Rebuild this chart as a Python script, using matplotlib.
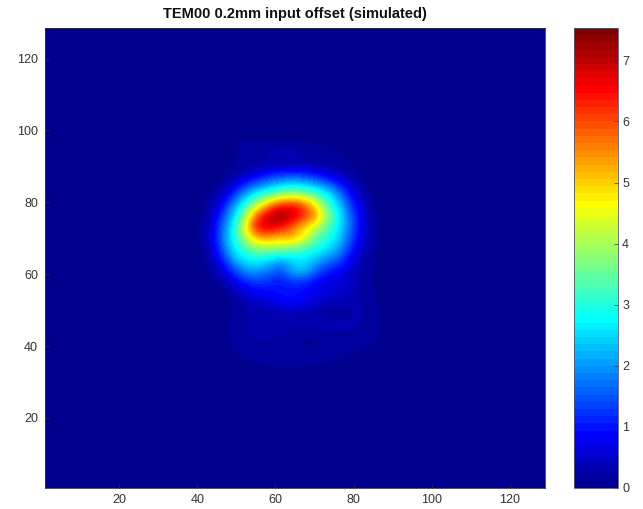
import matplotlib
matplotlib.use('Agg')
import numpy as np
import matplotlib.pyplot as plt
from matplotlib.colors import LinearSegmentedColormap

plt.rcParams['font.family'] = ['Liberation Sans', 'DejaVu Sans']

# beam intensity, step of 3 in x and y
x_centres = [37, 40, 43, 46, 49, 52, 55, 58, 61, 64, 67, 70, 73, 76, 79, 82, 85, 88, 91]
y_centres = [106, 103, 100, 97, 94, 91, 88, 85, 82, 79, 76, 73, 70, 67, 64, 61, 58, 55, 52, 49, 46, 43, 40, 37, 34, 31]
row_106 = [0, 0, 0, 0, 0, 0, 0, 0, 0, 0, 0, 0, 0, 0, 0, 0, 0, 0, 0]
row_103 = [0, 0, 0, 0, 0.01, 0.03, 0.06, 0.08, 0.08, 0.08, 0.08, 0.08, 0.06, 0.04, 0.02, 0, 0, 0, 0]
row_100 = [0, 0, 0, 0.02, 0.06, 0.1, 0.12, 0.14, 0.14, 0.14, 0.14, 0.14, 0.12, 0.1, 0.06, 0.02, 0, 0, 0]
row_97 = [0, 0, 0.01, 0.04, 0.1, 0.12, 0.1, 0.08, 0.06, 0.06, 0.06, 0.08, 0.08, 0.08, 0.08, 0.04, 0.01, 0, 0]
row_94 = [0, 0, 0.02, 0.05, 0.1, 0.16, 0.2, 0.3, 0.35, 0.35, 0.3, 0.2, 0.16, 0.12, 0.08, 0.05, 0.02, 0, 0]
row_91 = [0, 0, 0.01, 0.04, 0.1, 0.11, 0.12, 0.15, 0.15, 0.15, 0.15, 0.12, 0.11, 0.12, 0.1, 0.05, 0.02, 0, 0]
row_88 = [0, 0, 0.02, 0.05, 0.12, 0.35, 0.6, 0.9, 1.1, 1.2, 1.1, 0.9, 0.6, 0.4, 0.15, 0.06, 0.01, 0, 0]
row_85 = [0, 0, 0.03, 0.1, 0.5, 1.1, 1.6, 2.0, 2.3, 2.5, 2.4, 2.1, 1.7, 1.1, 0.5, 0.15, 0.03, 0, 0]
row_82 = [0, 0.02, 0.1, 0.4, 1.2, 2.1, 2.9, 3.4, 3.9, 4.2, 4.0, 3.5, 2.9, 2.0, 1.0, 0.35, 0.08, 0, 0]
row_79 = [0, 0.03, 0.2, 0.8, 1.9, 3.1, 4.2, 5.5, 6.5, 6.6, 6.2, 5.0, 3.4, 2.5, 1.4, 0.5, 0.12, 0.02, 0]
row_76 = [0, 0.05, 0.3, 1.2, 2.4, 3.8, 6.0, 7.0, 7.5, 7.0, 6.3, 5.6, 4.0, 2.8, 1.7, 0.65, 0.15, 0.03, 0]
row_73 = [0, 0.08, 0.4, 1.5, 2.7, 4.5, 6.6, 6.8, 6.5, 5.8, 5.0, 4.2, 3.4, 2.7, 1.7, 0.7, 0.18, 0.04, 0]
row_70 = [0, 0.08, 0.4, 1.6, 2.8, 3.9, 5.2, 5.3, 5.0, 5.3, 4.6, 3.6, 3.0, 2.5, 1.5, 0.6, 0.18, 0.05, 0]
row_67 = [0, 0.05, 0.3, 1.4, 2.6, 3.2, 3.7, 3.8, 3.7, 3.5, 3.2, 2.9, 2.6, 2.1, 1.2, 0.45, 0.15, 0.05, 0]
row_64 = [0, 0.03, 0.2, 0.9, 2.1, 2.6, 2.8, 2.6, 2.2, 2.4, 2.6, 2.3, 1.9, 1.5, 0.8, 0.3, 0.12, 0.05, 0]
row_61 = [0, 0.02, 0.1, 0.5, 1.3, 2.0, 2.1, 1.8, 1.4, 2.2, 2.5, 1.7, 1.1, 0.9, 0.55, 0.2, 0.1, 0.05, 0]
row_58 = [0, 0, 0.03, 0.15, 0.6, 1.1, 1.3, 1.2, 1.0, 1.2, 1.2, 0.9, 0.7, 0.6, 0.4, 0.2, 0.1, 0.06, 0.01]
row_55 = [0, 0, 0.02, 0.06, 0.25, 0.6, 0.85, 0.9, 1.0, 1.0, 0.9, 0.75, 0.6, 0.55, 0.4, 0.2, 0.12, 0.06, 0.01]
row_52 = [0, 0, 0.01, 0.05, 0.1, 0.25, 0.4, 0.6, 0.8, 0.95, 0.75, 0.6, 0.4, 0.3, 0.3, 0.25, 0.14, 0.07, 0.01]
row_49 = [0, 0, 0.01, 0.05, 0.1, 0.2, 0.25, 0.2, 0.15, 0.2, 0.2, 0.2, 0.12, 0.1, 0.2, 0.25, 0.15, 0.08, 0.02]
row_46 = [0, 0, 0.02, 0.08, 0.15, 0.22, 0.3, 0.35, 0.35, 0.3, 0.3, 0.35, 0.4, 0.35, 0.3, 0.25, 0.18, 0.08, 0.02]
row_43 = [0, 0, 0.02, 0.08, 0.14, 0.2, 0.28, 0.3, 0.25, 0.18, 0.1, 0.1, 0.12, 0.15, 0.15, 0.18, 0.14, 0.06, 0.01]
row_40 = [0, 0, 0.01, 0.05, 0.12, 0.2, 0.2, 0.16, 0.12, 0.1, 0.1, 0.12, 0.12, 0.12, 0.14, 0.14, 0.1, 0.04, 0]
row_37 = [0, 0, 0, 0.02, 0.08, 0.14, 0.2, 0.22, 0.22, 0.22, 0.22, 0.2, 0.18, 0.15, 0.12, 0.08, 0.04, 0.02, 0]
row_34 = [0, 0, 0, 0, 0.01, 0.03, 0.06, 0.08, 0.1, 0.1, 0.1, 0.08, 0.06, 0.04, 0.02, 0.01, 0, 0, 0]
row_31 = [0, 0, 0, 0, 0, 0, 0, 0, 0, 0, 0, 0, 0, 0, 0, 0, 0, 0, 0]
intensity = np.array([row_106, row_103, row_100, row_97, row_94, row_91, row_88, row_85, row_82, row_79,
                      row_76, row_73, row_70, row_67, row_64, row_61, row_58, row_55, row_52, row_49,
                      row_46, row_43, row_40, row_37, row_34, row_31])

x_ticks = [20, 40, 60, 80, 100, 120]
y_ticks = [20, 40, 60, 80, 100, 120]
bar_ticks = [0, 1, 2, 3, 4, 5, 6, 7]
v_max = 7.53

# matlab style jet, 64 levels
jet64 = LinearSegmentedColormap.from_list('jet64', [
    (0, (0, 0, 0.5625)), (7/63, (0, 0, 1)), (23/63, (0, 1, 1)),
    (39/63, (1, 1, 0)), (55/63, (1, 0, 0)), (1, (0.5, 0, 0))], N=64)

W, H = 643, 509
fig = plt.figure(figsize=(W/100, H/100), dpi=100)
ax = fig.add_axes([45/W, 1 - 488/H, 500/W, 460/H])
ax.set_facecolor(jet64(0))
im = ax.imshow(intensity, cmap=jet64, vmin=0, vmax=v_max, interpolation='bicubic', aspect='auto',
               extent=[x_centres[0]-1.5, x_centres[-1]+1.5, y_centres[-1]-1.5, y_centres[0]+1.5], origin='upper')
ax.set_xlim(1, 129)
ax.set_ylim(0.5, 128.5)
ax.set_xticks(x_ticks)
ax.set_yticks(y_ticks)
ax.tick_params(direction='in', length=3, width=0.5, labelsize=9, colors='#333333')
ax.tick_params(axis='x', pad=4)
ax.tick_params(axis='y', pad=5)
for s in ax.spines.values():
    s.set_linewidth(0.6)
    s.set_color('#333344')
ax.set_title('TEM00 0.2mm input offset (simulated)', fontsize=10.5, fontweight='bold', pad=7, color='#111111')

cax = fig.add_axes([574/W, 1 - 488/H, 44/W, 460/H])
cb = fig.colorbar(im, cax=cax, ticks=bar_ticks)
cb.ax.tick_params(direction='in', length=3, width=0.5, labelsize=9, colors='#333333', pad=3)
cb.outline.set_linewidth(0.6)
cb.outline.set_edgecolor('#555566')

fig.savefig('out.png', dpi=100)
